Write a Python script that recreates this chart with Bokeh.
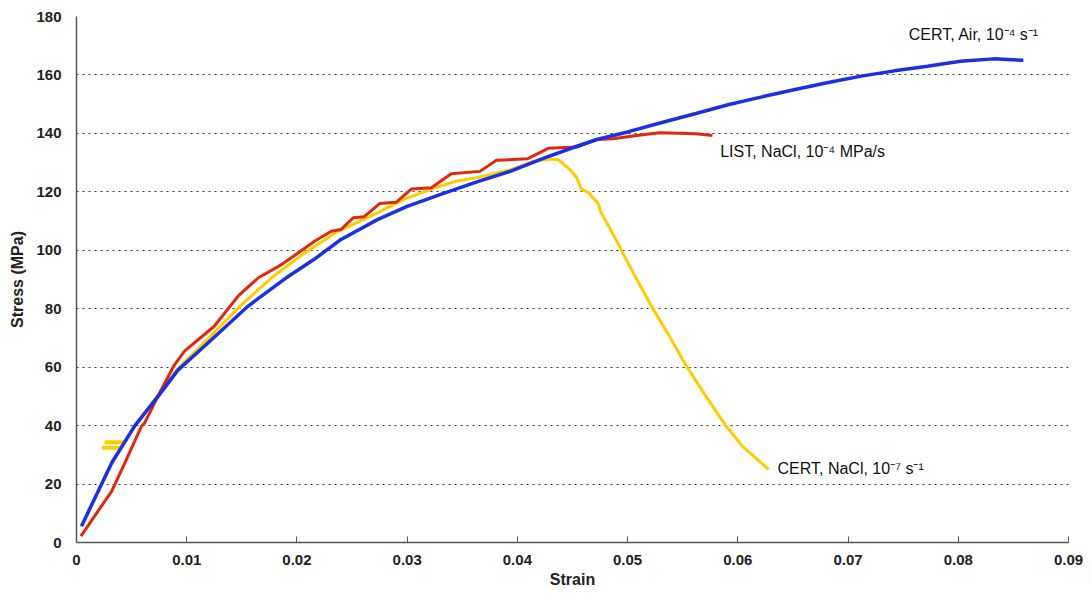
from bokeh.plotting import figure
from bokeh.models import Range1d, FixedTicker, Label
from bokeh.embed import file_html
from bokeh.resources import INLINE

# ---- data ----
air_strain = [0.00045, 0.0032, 0.0053, 0.0074, 0.0092, 0.0117, 0.0156, 0.0190, 0.0216,
              0.0240, 0.0273, 0.0300, 0.0333, 0.0364, 0.0394, 0.0424, 0.0454, 0.0472,
              0.0500, 0.0532, 0.0562, 0.0592, 0.0622, 0.0652, 0.0682, 0.0712, 0.0742,
              0.0772, 0.0802, 0.0832, 0.0859]
air_stress = [5.6, 27.3, 40.0, 50.0, 59.0, 67.5, 81.0, 90.5, 97.0,
              103.7, 110.5, 115.0, 119.5, 123.5, 127.1, 131.5, 135.6, 137.9,
              140.5, 143.8, 146.8, 149.9, 152.5, 155.0, 157.4, 159.6, 161.4,
              163.0, 164.7, 165.5, 165.0]

list_strain = [0.0004, 0.0032, 0.0044, 0.0059, 0.0062, 0.0077, 0.0089, 0.0098, 0.0125,
               0.0147, 0.0165, 0.0186, 0.0201, 0.0216, 0.0231, 0.0240, 0.0251, 0.0261,
               0.0275, 0.0290, 0.0304, 0.0322, 0.0340, 0.0366, 0.0381, 0.0409, 0.0428,
               0.0454, 0.0472, 0.0487, 0.0508, 0.0529, 0.0562, 0.0577]
list_stress = [2.2, 17.6, 27.3, 39.8, 41.0, 52.4, 60.9, 65.5, 74.0,
               84.5, 90.6, 95.1, 99.1, 103.1, 106.5, 107.1, 111.1, 111.5,
               116.0, 116.4, 121.0, 121.4, 126.2, 127.0, 130.8, 131.3, 134.9,
               135.3, 137.9, 138.2, 139.3, 140.2, 139.9, 139.3]

nacl_strain = [0.0005, 0.0032, 0.0053, 0.0074, 0.0092, 0.0111, 0.0150, 0.0177, 0.0207,
               0.0237, 0.0267, 0.0297, 0.0327, 0.0345, 0.0363, 0.0394, 0.0415, 0.0430,
               0.0437, 0.0448, 0.0454, 0.0458, 0.0464, 0.0473, 0.0476, 0.0484, 0.0494,
               0.0505, 0.0523, 0.0538, 0.0554, 0.0571, 0.0589, 0.0604, 0.0628]
nacl_stress = [6.0, 27.0, 40.0, 50.5, 59.5, 66.5, 81.5, 90.6, 99.1,
               106.5, 111.7, 117.4, 121.6, 123.7, 124.8, 127.6, 130.5, 131.2,
               131.0, 127.5, 124.8, 120.8, 119.9, 116.2, 112.8, 107.5, 100.3,
               92.3, 80.0, 70.6, 60.0, 50.1, 40.0, 33.0, 25.0]
nacl_marks_strain = [[0.00255, 0.00442], [0.00232, 0.00412]]
nacl_marks_stress = [[34.3, 34.3], [32.4, 32.4]]

x_ticks = [0, 0.01, 0.02, 0.03, 0.04, 0.05, 0.06, 0.07, 0.08, 0.09]
x_tick_labels = ["0", "0.01", "0.02", "0.03", "0.04", "0.05", "0.06", "0.07", "0.08", "0.09"]
y_ticks = [0, 20, 40, 60, 80, 100, 120, 140, 160, 180]

labels = [
    ("CERT, Air, 10\u207b\u2074 s\u207b\u00b9", 0.0755, 173.9),
    ("LIST, NaCl, 10\u207b\u2074 MPa/s", 0.0584, 133.9),
    ("CERT, NaCl, 10\u207b\u2077 s\u207b\u00b9", 0.0636, 25.2),
]

BLUE = "#1a30e4"
RED = "#e2280c"
YELLOW = "#ffcc00"
FONT = "Liberation Sans"

p = figure(width=1085, height=590, output_backend="svg", toolbar_location=None,
           x_range=Range1d(0, 0.09), y_range=Range1d(0, 180),
           min_border_left=76, min_border_right=17, min_border_top=16, min_border_bottom=48)
p.outline_line_color = None
p.background_fill_color = "white"
p.border_fill_color = "white"

# grid
p.xgrid.grid_line_color = None
p.ygrid.grid_line_color = "#333333"
p.ygrid.grid_line_dash = "2 4"
p.ygrid.grid_line_width = 1
p.ygrid.ticker = FixedTicker(ticks=y_ticks)

# x axis
p.xaxis.ticker = FixedTicker(ticks=x_ticks)
p.xaxis.major_label_overrides = {t: l for t, l in zip(x_ticks, x_tick_labels)}
p.xaxis.minor_tick_line_color = None
p.xaxis.major_tick_in = 6
p.xaxis.major_tick_out = 0
p.xaxis.major_tick_line_color = "#555555"
p.xaxis.axis_line_color = "#555555"
p.xaxis.axis_line_width = 1.5
p.xaxis.major_label_standoff = 12
p.xaxis.major_label_text_font = FONT
p.xaxis.major_label_text_font_style = "bold"
p.xaxis.major_label_text_font_size = "15px"
p.xaxis.major_label_text_color = "#222222"
p.xaxis.axis_label = "Strain"
p.xaxis.axis_label_text_font = FONT
p.xaxis.axis_label_text_font_style = "bold"
p.xaxis.axis_label_text_font_size = "16px"
p.xaxis.axis_label_text_color = "#222222"
p.xaxis.axis_label_standoff = 3

# y axis
p.yaxis.ticker = FixedTicker(ticks=y_ticks)
p.yaxis.minor_tick_line_color = None
p.yaxis.major_tick_in = 0
p.yaxis.major_tick_out = 0
p.yaxis.axis_line_color = "#555555"
p.yaxis.axis_line_width = 1.5
p.yaxis.major_label_standoff = 15
p.yaxis.major_label_text_font = FONT
p.yaxis.major_label_text_font_style = "bold"
p.yaxis.major_label_text_font_size = "15px"
p.yaxis.major_label_text_color = "#222222"
p.yaxis.axis_label = "Stress (MPa)"
p.yaxis.axis_label_text_font = FONT
p.yaxis.axis_label_text_font_style = "bold"
p.yaxis.axis_label_text_font_size = "16px"
p.yaxis.axis_label_text_color = "#222222"
p.yaxis.axis_label_standoff = 7

# curves
p.line(nacl_strain, nacl_stress, line_color=YELLOW, line_width=3)
p.multi_line(nacl_marks_strain, nacl_marks_stress, line_color=YELLOW, line_width=4)
p.line(list_strain, list_stress, line_color=RED, line_width=3)
p.line(air_strain, air_stress, line_color=BLUE, line_width=3.5)

for txt, xx, yy in labels:
    p.add_layout(Label(x=xx, y=yy, text=txt, text_font=FONT, text_font_size="16px",
                       text_baseline="middle", text_align="left", text_color="#111111"))

open("out.html", "w").write(file_html(p, INLINE))
